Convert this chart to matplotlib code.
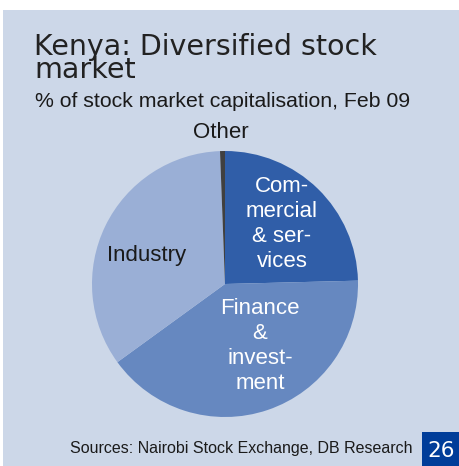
import matplotlib.pyplot as plt
from matplotlib.patches import Rectangle

# shares of stock market capitalisation, clockwise from 12 o'clock
labels = ["Com-\nmercial\n& ser-\nvices", "Finance\n&\ninvest-\nment", "Industry", "Other"]
shares = [24.6, 40.4, 34.4, 0.6]
colors = ["#305ea8", "#6688c0", "#9aafd6", "#404040"]

BG = "#ccd7e8"
W, H = 459, 466

fig = plt.figure(figsize=(W / 100, H / 100), dpi=100)
fig.patch.set_facecolor("white")

# light blue panel
fig.patches.append(Rectangle((3 / W, 0), 1 - 3 / W, (H - 10) / H,
                             transform=fig.transFigure, facecolor=BG,
                             edgecolor="none", zorder=-5))

# pie: centre ~ (225, 284), radius ~133 px
r = 133
ax = fig.add_axes([(225 - r) / W, (H - 284 - r) / H, 2 * r / W, 2 * r / H])
ax.set_zorder(2)
ax.patch.set_visible(False)
wedges, _ = ax.pie(shares, colors=colors, startangle=90, counterclock=False,
                   radius=1.0, wedgeprops=dict(linewidth=0))
ax.set_xlim(-1, 1)
ax.set_ylim(-1, 1)
ax.set_aspect("equal")
ax.axis("off")


def fx(px):
    return px / W


def fy(py):
    return 1 - py / H


lab_font = dict(family="Liberation Sans", fontsize=16, zorder=3)
fig.text(fx(282), fy(224), labels[0], color="white", ha="center", va="center",
         linespacing=1.23, **lab_font)
fig.text(fx(260), fy(346), labels[1], color="white", ha="center", va="center",
         linespacing=1.23, **lab_font)
fig.text(fx(147), fy(256), labels[2], color="#1a1a1a", ha="center", va="center", **lab_font)
fig.text(fx(221), fy(133), labels[3], color="#1a1a1a", ha="center", va="center", **lab_font)

# title: baseline of the last line ("market") sits at ~78 px
fig.text(fx(34), fy(78), "Kenya: Diversified stock\nmarket", family="DejaVu Sans",
         fontsize=20.5, color="#222222", ha="left", va="baseline", linespacing=0.78)
fig.text(fx(35), fy(107), "% of stock market capitalisation, Feb 09", color="#1a1a1a",
         ha="left", va="baseline", family="Liberation Sans", fontsize=15.3)

# footer
fig.text(fx(413), fy(449), "Sources: Nairobi Stock Exchange, DB Research", color="#1a1a1a",
         ha="right", va="center", family="Liberation Sans", fontsize=11.5)
fig.patches.append(Rectangle((fx(422), 0), 1 - fx(422), 34 / H,
                             transform=fig.transFigure, facecolor="#003d99",
                             edgecolor="none", zorder=1))
fig.text(fx(441), fy(451), "26", color="white", ha="center", va="center",
         family="DejaVu Sans", fontsize=15.5, zorder=2)

fig.savefig("out.png", dpi=100, facecolor=fig.get_facecolor())
